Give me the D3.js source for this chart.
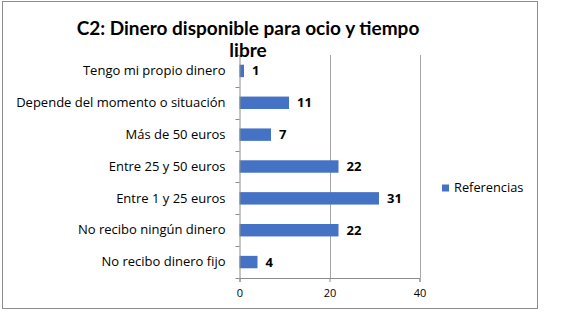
<!DOCTYPE html>
<html>
<head>
<meta charset="utf-8">
<script src="https://cdn.jsdelivr.net/npm/d3@7"></script>
<style>
  body { margin: 0; background: #fff; }
  text { font-family: "Open Sans", "Noto Sans", sans-serif; }
</style>
</head>
<body>
<div id="chart"></div>
<script>
// Chart data
const categories = [
    "Tengo mi propio dinero",
    "Depende del momento o situación",
    "Más de 50 euros",
    "Entre 25 y 50 euros",
    "Entre 1 y 25 euros",
    "No recibo ningún dinero",
    "No recibo dinero fijo"
];
const values = [1, 11, 7, 22, 31, 22, 4];
const xTicks = [0, 20, 40];
const seriesName = "Referencias";
const titleLines = ["C2: Dinero disponible para ocio y tiempo", "libre"];

const width = 567, height = 311;
const plot = { left: 239.5, right: 419.5, top: 55, bottom: 278 };

const svg = d3.select("#chart")
    .append("svg")
    .attr("width", width)
    .attr("height", height);

// outer chart border
svg.append("rect")
    .attr("x", 2.5).attr("y", 1.5)
    .attr("width", 535).attr("height", 307)
    .attr("fill", "#fff")
    .attr("stroke", "#8c8c8c");

const xScale = d3.scaleLinear()
    .domain([0, 40])
    .range([plot.left, plot.right]);

const yScale = d3.scaleBand()
    .domain(categories)
    .range([plot.top, plot.bottom])
    .paddingInner(0.61)
    .paddingOuter(0.305);

// gridlines
svg.selectAll(".grid")
    .data(xTicks.filter(t => t > 0))
    .join("line")
    .attr("x1", d => Math.round(xScale(d)) + 0.5)
    .attr("x2", d => Math.round(xScale(d)) + 0.5)
    .attr("y1", plot.top)
    .attr("y2", plot.bottom)
    .attr("stroke", "#a6a6a6");

// bars
svg.selectAll(".bar")
    .data(values)
    .join("rect")
    .attr("x", xScale(0))
    .attr("y", (d, i) => yScale(categories[i]))
    .attr("width", d => xScale(d) - xScale(0))
    .attr("height", yScale.bandwidth())
    .attr("fill", "#4472c4");

// value labels
svg.selectAll(".val")
    .data(values)
    .join("text")
    .attr("x", d => xScale(d) + 8)
    .attr("y", (d, i) => yScale(categories[i]) + yScale.bandwidth() / 2)
    .attr("dy", "0.35em")
    .style("font-size", "13px")
    .style("font-weight", "bold")
    .attr("fill", "#000")
    .text(d => d);

// y axis
const yAxis = svg.append("g")
    .attr("transform", `translate(${plot.left},0)`)
    .call(d3.axisLeft(yScale).tickSize(0).tickPadding(14));
yAxis.select(".domain").attr("stroke", "#8c8c8c");
yAxis.selectAll("text")
    .style("font-size", "13px")
    .attr("fill", "#000");

// category boundary ticks
const step = yScale.step();
const boundaries = d3.range(categories.length + 1).map(i => plot.top + i * step);
svg.selectAll(".ytick")
    .data(boundaries)
    .join("line")
    .attr("x1", plot.left - 4)
    .attr("x2", plot.left)
    .attr("y1", d => Math.round(d) + 0.5)
    .attr("y2", d => Math.round(d) + 0.5)
    .attr("stroke", "#8c8c8c");

// x axis
const xAxis = svg.append("g")
    .attr("transform", `translate(0,${plot.bottom})`)
    .call(d3.axisBottom(xScale).tickValues(xTicks).tickSizeOuter(0).tickSize(4).tickPadding(7));
xAxis.select(".domain").attr("stroke", "#8c8c8c");
xAxis.selectAll("line").attr("stroke", "#8c8c8c");
xAxis.selectAll("text")
    .style("font-size", "11px")
    .attr("fill", "#000");

// title
svg.selectAll(".title")
    .data(titleLines)
    .join("text")
    .attr("x", 248)
    .attr("y", (d, i) => 35 + i * 21.5)
    .style("text-anchor", "middle")
    .style("font-family", "Lato, 'Open Sans', sans-serif")
    .style("font-size", "19px")
    .style("font-weight", "bold")
    .attr("fill", "#000")
    .text(d => d);

// legend
svg.append("rect")
    .attr("x", 442)
    .attr("y", 184.5)
    .attr("width", 7)
    .attr("height", 7)
    .attr("fill", "#4472c4");
svg.append("text")
    .attr("x", 454)
    .attr("y", 188)
    .attr("dy", "0.35em")
    .style("font-size", "12.8px")
    .attr("fill", "#000")
    .text(seriesName);
</script>
</body>
</html>
